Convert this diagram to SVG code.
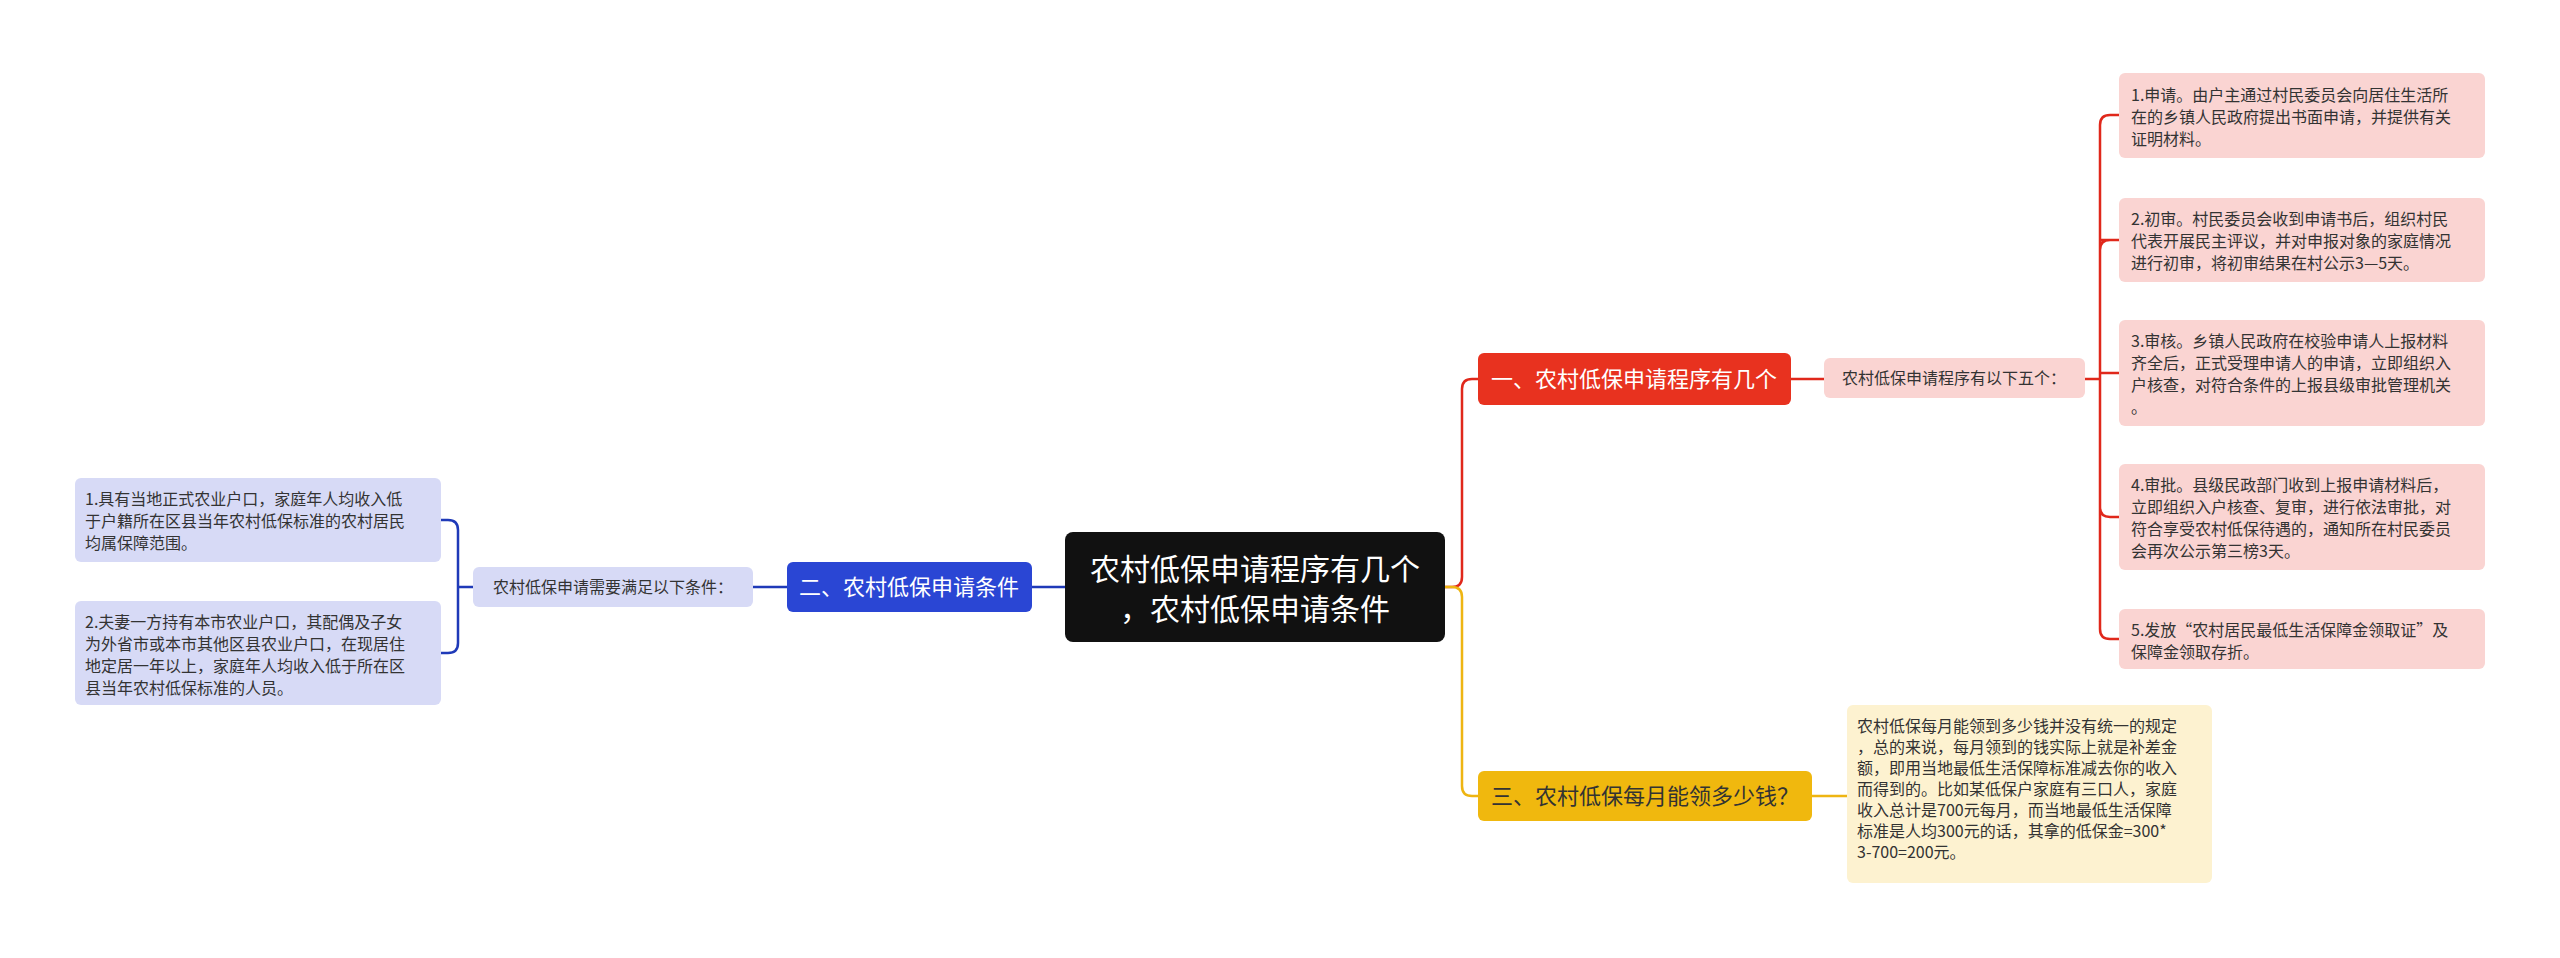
<svg xmlns="http://www.w3.org/2000/svg" width="2560" height="958" viewBox="0 0 2560 958">
<style>
text{font-family:"Noto Sans CJK SC","Noto Sans",sans-serif}
.lf{font-size:16px;fill:#333}
.c{fill:none;stroke-width:2.5}
</style>
<rect width="2560" height="958" fill="#fff"/>
<g id="connectors">
<path class="c" stroke="#e0281b" d="M1445 587 H1452 Q1462 587 1462 577 V389 Q1462 379 1472 379 H1478"/>
<path class="c" stroke="#eeb512" d="M1445 587 H1452 Q1462 587 1462 597 V786 Q1462 796 1472 796 H1478"/>
<path class="c" stroke="#1f3ab8" d="M1065 587 H1032"/>
<path class="c" stroke="#e0281b" d="M1791 379 H1824"/>
<path class="c" stroke="#e0281b" d="M2085 379 H2100 M2119 115 H2110 Q2100 115 2100 125 V629 Q2100 639 2110 639 H2119 M2100 240 Q2100 240 2119 240 M2100 373 H2119 M2100 507 Q2100 517 2110 517 H2119 M2100 250 Q2100 240 2110 240"/>
<path class="c" stroke="#eeb512" d="M1812 796 H1847"/>
<path class="c" stroke="#1f3ab8" d="M787 587 H753"/>
<path class="c" stroke="#1f3ab8" d="M473 587 H458 M441 520 H448 Q458 520 458 530 V643 Q458 653 448 653 H441"/>
</g>
<g id="root"><rect x="1065" y="532" width="380" height="110" rx="8" fill="#111"/>
<text x="1255" y="580" font-size="30" fill="#fff" text-anchor="middle">农村低保申请程序有几个</text>
<text x="1255" y="620" font-size="30" fill="#fff" text-anchor="middle">，农村低保申请条件</text></g>
<g id="b1"><rect x="1478" y="353" width="313" height="52" rx="6" fill="#e8321f"/>
<text x="1634" y="387" font-size="22" fill="#fff" text-anchor="middle">一、农村低保申请程序有几个</text></g>
<g id="s1"><rect x="1824" y="358" width="261" height="40" rx="6" fill="#fad4d2"/>
<text x="1954" y="384" font-size="16" fill="#333" text-anchor="middle">农村低保申请程序有以下五个：</text></g>
<g id="r1"><rect x="2119" y="73" width="366" height="85" rx="6" fill="#fad4d2"/>
<text class="lf" x="2131"><tspan x="2131" y="101">1.申请。由户主通过村民委员会向居住生活所</tspan><tspan x="2131" y="123">在的乡镇人民政府提出书面申请，并提供有关</tspan><tspan x="2131" y="145">证明材料。</tspan></text></g>
<g id="r2"><rect x="2119" y="198" width="366" height="84" rx="6" fill="#fad4d2"/>
<text class="lf"><tspan x="2131" y="225">2.初审。村民委员会收到申请书后，组织村民</tspan><tspan x="2131" y="247">代表开展民主评议，并对申报对象的家庭情况</tspan><tspan x="2131" y="269">进行初审，将初审结果在村公示3—5天。</tspan></text></g>
<g id="r3"><rect x="2119" y="320" width="366" height="106" rx="6" fill="#fad4d2"/>
<text class="lf"><tspan x="2131" y="347">3.审核。乡镇人民政府在校验申请人上报材料</tspan><tspan x="2131" y="369">齐全后，正式受理申请人的申请，立即组织入</tspan><tspan x="2131" y="391">户核查，对符合条件的上报县级审批管理机关</tspan><tspan x="2131" y="413">。</tspan></text></g>
<g id="r4"><rect x="2119" y="464" width="366" height="106" rx="6" fill="#fad4d2"/>
<text class="lf"><tspan x="2131" y="491">4.审批。县级民政部门收到上报申请材料后，</tspan><tspan x="2131" y="513">立即组织入户核查、复审，进行依法审批，对</tspan><tspan x="2131" y="535">符合享受农村低保待遇的，通知所在村民委员</tspan><tspan x="2131" y="557">会再次公示第三榜3天。</tspan></text></g>
<g id="r5"><rect x="2119" y="609" width="366" height="60" rx="6" fill="#fad4d2"/>
<text class="lf"><tspan x="2131" y="636">5.发放“农村居民最低生活保障金领取证”及</tspan><tspan x="2131" y="658">保障金领取存折。</tspan></text></g>
<g id="b3"><rect x="1478" y="771" width="334" height="50" rx="6" fill="#f0b80e"/>
<text x="1645" y="804" font-size="22" fill="#333" text-anchor="middle">三、农村低保每月能领多少钱？</text></g>
<g id="y1"><rect x="1847" y="705" width="365" height="178" rx="6" fill="#fdf2d0"/>
<text class="lf"><tspan x="1857" y="732">农村低保每月能领到多少钱并没有统一的规定</tspan><tspan x="1857" y="753">，总的来说，每月领到的钱实际上就是补差金</tspan><tspan x="1857" y="774">额，即用当地最低生活保障标准减去你的收入</tspan><tspan x="1857" y="795">而得到的。比如某低保户家庭有三口人，家庭</tspan><tspan x="1857" y="816">收入总计是700元每月，而当地最低生活保障</tspan><tspan x="1857" y="837">标准是人均300元的话，其拿的低保金=300*</tspan><tspan x="1857" y="858">3-700=200元。</tspan></text></g>
<g id="b2"><rect x="787" y="562" width="245" height="50" rx="6" fill="#2a46d4"/>
<text x="909" y="595" font-size="22" fill="#fff" text-anchor="middle">二、农村低保申请条件</text></g>
<g id="s2"><rect x="473" y="567" width="280" height="40" rx="6" fill="#d7daf6"/>
<text x="613" y="593" font-size="16" fill="#333" text-anchor="middle">农村低保申请需要满足以下条件：</text></g>
<g id="l1"><rect x="75" y="478" width="366" height="84" rx="6" fill="#d7daf6"/>
<text class="lf"><tspan x="85" y="505">1.具有当地正式农业户口，家庭年人均收入低</tspan><tspan x="85" y="527">于户籍所在区县当年农村低保标准的农村居民</tspan><tspan x="85" y="549">均属保障范围。</tspan></text></g>
<g id="l2"><rect x="75" y="601" width="366" height="104" rx="6" fill="#d7daf6"/>
<text class="lf"><tspan x="85" y="628">2.夫妻一方持有本市农业户口，其配偶及子女</tspan><tspan x="85" y="650">为外省市或本市其他区县农业户口，在现居住</tspan><tspan x="85" y="672">地定居一年以上，家庭年人均收入低于所在区</tspan><tspan x="85" y="694">县当年农村低保标准的人员。</tspan></text></g>
</svg>
